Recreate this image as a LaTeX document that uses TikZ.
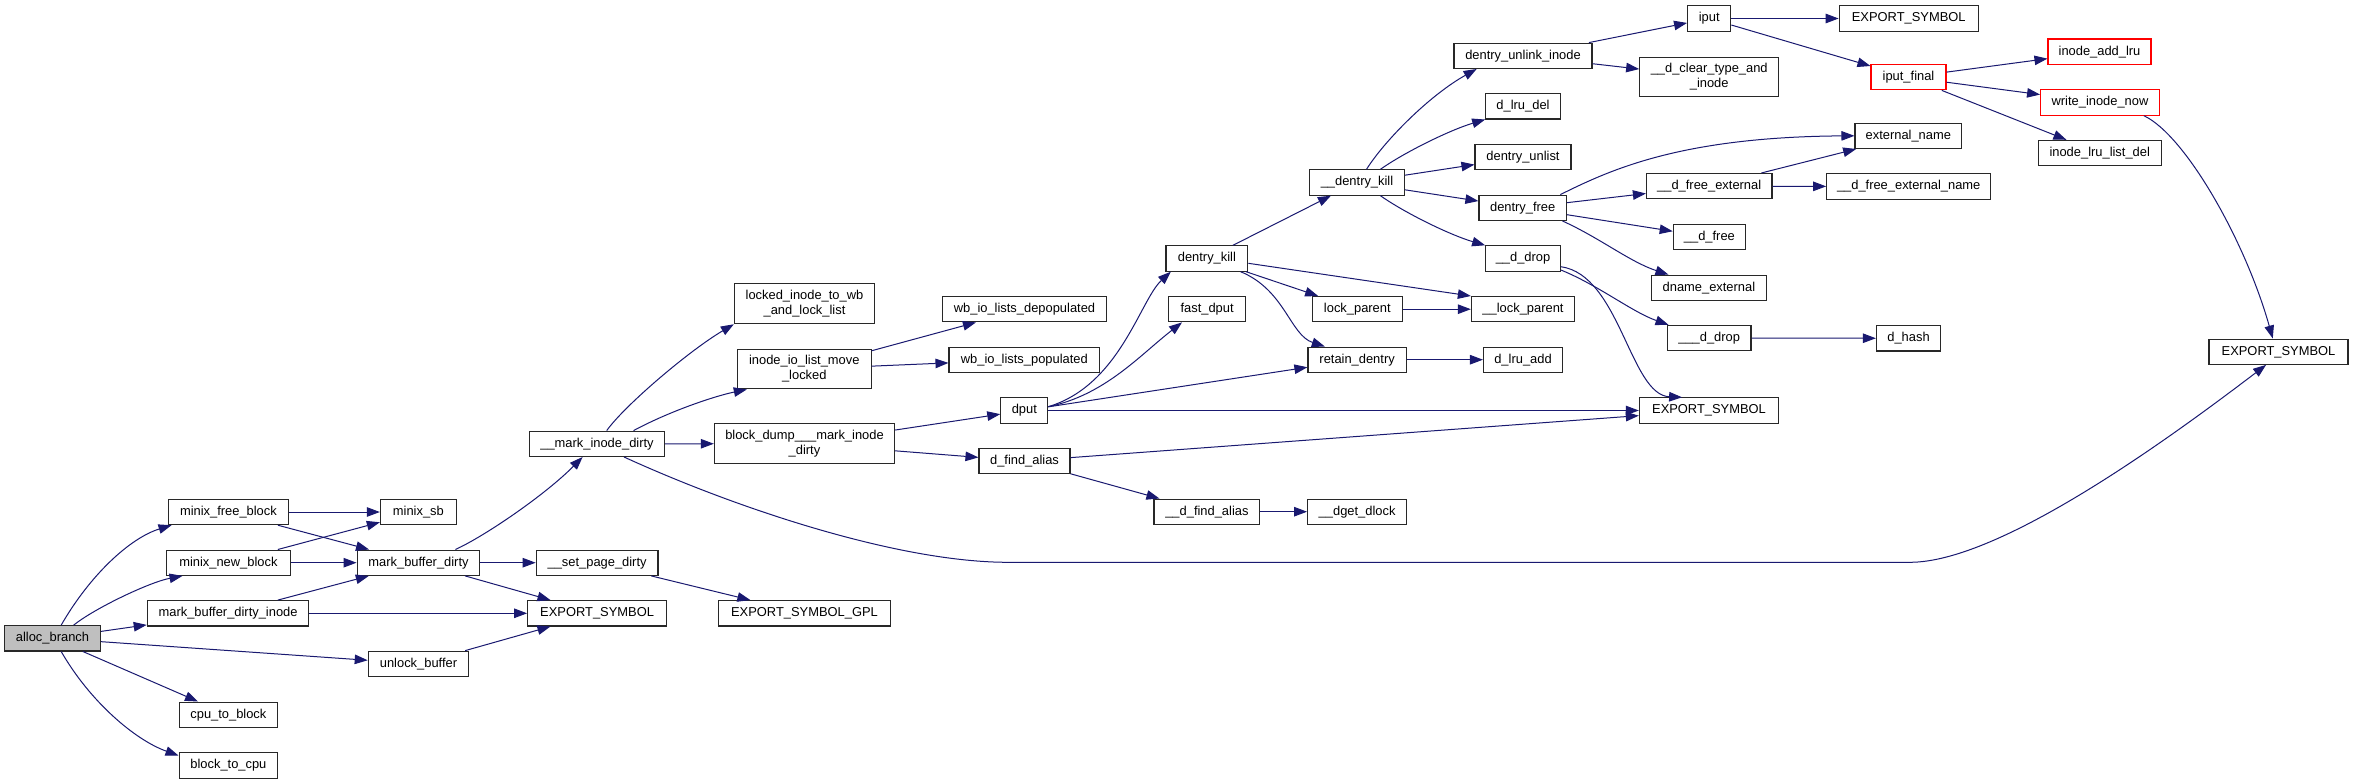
\documentclass[tikz,border=0pt]{standalone}
\usepackage{fontspec}
\setmainfont{Liberation Sans}
\usetikzlibrary{arrows.meta,calc}
\definecolor{edgeblue}{RGB}{25,25,112}
\definecolor{rootgray}{RGB}{191,191,191}
\definecolor{boxline}{RGB}{40,40,40}
\newcommand\gfont{\fontsize{12.9}{15}\selectfont}
\tikzset{
  box/.style={draw=boxline, line width=1.1pt, fill=white, inner sep=0pt,
    minimum height=25.3pt, text height=10pt, text depth=3.2pt, font=\gfont},
  boxtwo/.style={draw=boxline, line width=1.1pt, fill=white, inner sep=0pt,
    minimum height=39.8pt, align=center, font=\gfont},
  redbox/.style={box, draw=red},
  rootbox/.style={box, fill=rootgray},
  e/.style={draw=edgeblue, line width=1pt, -{Triangle[length=13pt,width=9.5pt]}}
}
\begin{document}
\begin{tikzpicture}[x=1pt,y=-1pt]
\useasboundingbox (0,0) rectangle (2353,784);
\fill[white] (0,0) rectangle (2353,784);
% nodes
\node[rootbox, minimum width=96pt] (ab) at (52.5,638.3) {alloc\_branch};
\node[box, minimum width=120pt] (mfb) at (228.4,512) {minix\_free\_block};
\node[box, minimum width=76pt] (msb) at (418.4,512) {minix\_sb};
\node[box, minimum width=123.7pt] (mnb) at (228.4,562.7) {minix\_new\_block};
\node[box, minimum width=122.8pt] (mbd) at (418.5,562.7) {mark\_buffer\_dirty};
\node[box, minimum width=121.8pt] (spd) at (597.1,562.7) {\_\_set\_page\_dirty};
\node[box, minimum width=161.6pt] (mbdi) at (228.1,613.3) {mark\_buffer\_dirty\_inode};
\node[box, minimum width=138.8pt] (esa) at (597.1,613.3) {EXPORT\_SYMBOL};
\node[box, minimum width=100.5pt] (ub) at (418.5,663.8) {unlock\_buffer};
\node[box, minimum width=98.7pt] (ctb) at (228.4,714.7) {cpu\_to\_block};
\node[box, minimum width=98.7pt] (btc) at (228.4,765.5) {block\_to\_cpu};
\node[box, minimum width=135pt] (mid) at (597,443.8) {\_\_mark\_inode\_dirty};
\node[box, minimum width=172.3pt] (gpl) at (804.5,613.3) {EXPORT\_SYMBOL\_GPL};
\node[boxtwo, minimum width=140.2pt] (litw) at (804.5,303.8) {locked\_inode\_to\_wb\\\_and\_lock\_list};
\node[boxtwo, minimum width=133.5pt] (iio) at (804.3,369) {inode\_io\_list\_move\\\_locked};
\node[boxtwo, minimum width=180.3pt] (bd) at (804.5,443.7) {block\_dump\_\_\_mark\_inode\\\_dirty};
\node[box, minimum width=164.3pt] (wbd) at (1024.5,309.2) {wb\_io\_lists\_depopulated};
\node[box, minimum width=150.6pt] (wbp) at (1024.3,359.7) {wb\_io\_lists\_populated};
\node[box, minimum width=47pt] (dput) at (1024.3,410.5) {dput};
\node[box, minimum width=91pt] (dfa) at (1024.5,461) {d\_find\_alias};
\node[box, minimum width=81.8pt] (dk) at (1206.9,258.5) {dentry\_kill};
\node[box, minimum width=76.7pt] (fd) at (1207.1,309.2) {fast\_dput};
\node[box, minimum width=105.8pt] (dfa2) at (1206.9,511.7) {\_\_d\_find\_alias};
\node[box, minimum width=95.1pt] (dk2) at (1357,182.5) {\_\_dentry\_kill};
\node[box, minimum width=89.7pt] (lp) at (1357.3,309.2) {lock\_parent};
\node[box, minimum width=98.3pt] (rd) at (1357.1,359.7) {retain\_dentry};
\node[box, minimum width=99pt] (dgd) at (1357.1,511.7) {\_\_dget\_dlock};
\node[box, minimum width=138pt] (dui) at (1523,55.8) {dentry\_unlink\_inode};
\node[box, minimum width=74.6pt] (dld) at (1523,106.3) {d\_lru\_del};
\node[box, minimum width=96pt] (dul) at (1523,157.2) {dentry\_unlist};
\node[box, minimum width=87.5pt] (df) at (1522.7,207.8) {dentry\_free};
\node[box, minimum width=74.6pt] (dd) at (1523,258.5) {\_\_d\_drop};
\node[box, minimum width=103.2pt] (lp2) at (1523,309.2) {\_\_lock\_parent};
\node[box, minimum width=79pt] (dla) at (1523,359.7) {d\_lru\_add};
\node[box, minimum width=139.3pt] (esb) at (1709,410.5) {EXPORT\_SYMBOL};
\node[box, minimum width=43.2pt] (iput) at (1709.2,18.5) {iput};
\node[boxtwo, minimum width=139pt] (dct) at (1709.2,77) {\_\_d\_clear\_type\_and\\\_inode};
\node[box, minimum width=125.5pt] (dfe) at (1709.2,186.2) {\_\_d\_free\_external};
\node[box, minimum width=72.3pt] (dfr) at (1709.4,237) {\_\_d\_free};
\node[box, minimum width=115.2pt] (dne) at (1708.9,287.8) {dname\_external};
\node[box, minimum width=83.5pt] (ddd) at (1709.2,338) {\_\_\_d\_drop};
\node[box, minimum width=139pt] (esc) at (1908.7,18.5) {EXPORT\_SYMBOL};
\node[redbox, minimum width=75pt] (ipf) at (1908.5,77.2) {iput\_final};
\node[box, minimum width=106.6pt] (en) at (1908.3,135.8) {external\_name};
\node[box, minimum width=164pt] (dfen) at (1908.7,186.5) {\_\_d\_free\_external\_name};
\node[box, minimum width=64.2pt] (dh) at (1908.5,338.3) {d\_hash};
\node[redbox, minimum width=103pt] (ial) at (2099.5,51.7) {inode\_add\_lru};
\node[redbox, minimum width=118.8pt] (win) at (2100,102.5) {write\_inode\_now};
\node[box, minimum width=123pt] (ild) at (2099.7,153) {inode\_lru\_list\_del};
\node[box, minimum width=139pt] (esd) at (2278.5,351.7) {EXPORT\_SYMBOL};
% straight edges
\draw[e] (ab) -- (mbdi);
\draw[e] (ab) -- (ub);
\draw[e] (ab) -- (ctb);
\draw[e] (mfb) -- (msb);
\draw[e] (mfb) -- (mbd);
\draw[e] (mnb) -- (msb);
\draw[e] (mnb) -- (mbd);
\draw[e] (mbdi) -- (mbd);
\draw[e] (mbdi) -- (esa);
\draw[e] (mbd) -- (spd);
\draw[e] (mbd) -- (esa);
\draw[e] (ub) -- (esa);
\draw[e] (spd) -- (gpl);
\draw[e] (mid) -- (bd);
\draw[e] (iio) -- (wbd);
\draw[e] (iio) -- (wbp);
\draw[e] (bd) -- (dput);
\draw[e] (bd) -- (dfa);
\draw[e] (dput) -- (rd);
\draw[e] (dput) -- (esb);
\draw[e] (dfa) -- (esb);
\draw[e] (dfa) -- (dfa2);
\draw[e] (dfa2) -- (dgd);
\draw[e] (dk) -- (dk2);
\draw[e] (dk) -- (lp);
\draw[e] ($(dk.east)+(0,4.8)$) -- (lp2.north west);
\draw[e] (lp) -- (lp2);
\draw[e] (rd) -- (dla);
\draw[e] (dk2) -- (dul);
\draw[e] (dk2) -- (df);
\draw[e] (dui) -- (iput);
\draw[e] (dui) -- (dct);
\draw[e] (df) -- (dfe);
\draw[e] (df) -- (dfr);
\draw[e] (dfe) -- (en);
\draw[e] (dfe) -- (dfen);
\draw[e] (ddd) -- (dh);
\draw[e] (iput) -- (esc);
\draw[e] (iput) -- (ipf);
\draw[e] (ipf) -- (ial);
\draw[e] (ipf) -- (win);
\draw[e] (ipf) -- (ild);
% curved edges
\draw[e] ($(ab.north)+(8.7,0)$) .. controls (90,575) and (130,538) .. ($(mfb.south west)+(3.7,0)$);
\draw[e] ($(ab.north)+(21.2,0)$) .. controls (95,608) and (150,582) .. ($(mnb.south west)+(16.5,0)$);
\draw[e] ($(ab.south)+(8.7,0)$) .. controls (90,701.6) and (135,740) .. ($(btc.west)+(0,-10)$);
\draw[e] ($(mbd.north)+(36.9,0)$) .. controls (485,536) and (545,495) .. ($(mid.south)+(-14.4,0)$);
\draw[e] ($(mid.north)+(9.7,0)$) .. controls (625,405) and (690,350) .. (litw.south west);
\draw[e] ($(mid.north)+(36.5,0)$) .. controls (670,411) and (715,396) .. ($(iio.south west)+(9.8,0)$);
\draw[e] ($(mid.south)+(27,0)$) .. controls (740,510) and (900,562.3) .. (1008,562.3)
   -- (1910,562.3) .. controls (2000,562.3) and (2170,438) .. ($(esd.south west)+(57.6,0)$);
\draw[e] ($(dput.east)+(0,-3.8)$) .. controls (1120,385) and (1140,300) .. ($(dk.south west)+(5.4,0)$);
\draw[e] ($(dput.east)+(0,-3.8)$) .. controls (1105,395) and (1140,355) .. ($(fd.south west)+(13.8,0)$);
\draw[e] ($(dk.south)+(33.7,0)$) .. controls (1285,290) and (1290,335) .. ($(rd.north west)+(17.4,0)$);
\draw[e] ($(dk2.north)+(9.5,0)$) .. controls (1385,140) and (1430,95) .. ($(dui.south west)+(23.2,0)$);
\draw[e] ($(dk2.north)+(23.4,0)$) .. controls (1405,152) and (1450,130) .. (dld.south west);
\draw[e] ($(dk2.south)+(23.4,0)$) .. controls (1405,213) and (1450,235) .. (dd.north west);
\draw[e] ($(df.north east)+(-6.7,0)$) .. controls (1610,170) and (1680,137) .. (en.west);
\draw[e] ($(df.south east)+(-4.5,0)$) .. controls (1600,238) and (1630,262) .. ($(dne.north west)+(17.7,0)$);
\draw[e] ($(dd.east)+(0,11.5)$) .. controls (1598,285) and (1632,312) .. ($(ddd.north west)+(1.6,0)$);
\draw[e] ($(dd.east)+(0,8.2)$) .. controls (1620,275) and (1630,395) .. ($(esb.north west)+(43.3,0)$);
\draw[e] ($(win.south east)+(-16.1,0)$) .. controls (2185,135) and (2245,240) .. ($(esd.north west)+(64.3,0)$);
\end{tikzpicture}
\end{document}
